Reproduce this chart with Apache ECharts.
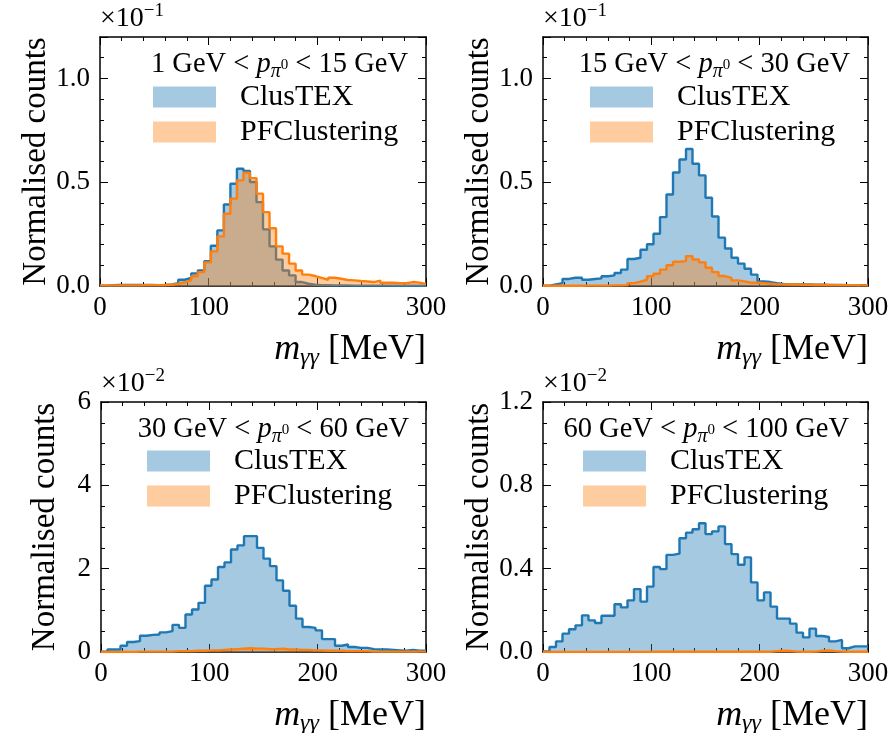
<!DOCTYPE html>
<html><head><meta charset="utf-8">
<script src="https://cdn.jsdelivr.net/npm/echarts@6/dist/echarts.min.js"></script>
<style>html,body{margin:0;padding:0;background:#fff}#chart{width:894px;height:733px}</style>
</head><body><div id="chart"></div>
<script>
// ---------- data ----------
const BIN_WIDTH = 6;          // MeV
const X_MIN = 0, X_MAX = 300, X_MAJOR = 100;
const SERIES_NAMES = ['ClusTEX', 'PFClustering'];
const PT_RANGES = [[1, 15], [15, 30], [30, 60], [60, 100]];
const EXPONENTS = ['\u22121', '\u22121', '\u22122', '\u22122'];
const Y_MAX = [1.2, 1.2, 6, 1.2];
const Y_MAJOR = [0.5, 0.5, 2, 0.4];
const Y_MINOR = [0.1, 0.1, 0.5, 0.1];
const Y_DECIMALS = [1, 1, 0, 1];

const P1_CLUSTEX = [0.002,0.004,0.005,0.005,0.005,0.005,0.005,0.005,0.004,0.005,0.008,0.014,0.030,0.039,0.061,0.075,0.119,0.194,0.268,0.393,0.493,0.565,0.554,0.501,0.404,0.273,0.191,0.127,0.075,0.051,0.019,0.011,0.006,0.004,0.004,0.003,0.003,0.003,0.002,0.002,0.002,0.002,0.002,0.002,0.001,0.001,0.001,0.001,0.001,0.001];
const P1_PFCLUSTERING = [0.003,0.003,0.003,0.003,0.003,0.003,0.004,0.004,0.004,0.005,0.006,0.011,0.018,0.027,0.047,0.067,0.114,0.167,0.239,0.348,0.421,0.509,0.546,0.520,0.445,0.356,0.278,0.191,0.156,0.108,0.075,0.055,0.048,0.039,0.030,0.040,0.035,0.029,0.027,0.024,0.022,0.019,0.026,0.016,0.016,0.014,0.013,0.019,0.016,0.010];
const P2_CLUSTEX = [0.002,0.008,0.014,0.034,0.040,0.040,0.030,0.034,0.037,0.047,0.051,0.063,0.079,0.130,0.136,0.175,0.201,0.252,0.332,0.441,0.547,0.610,0.660,0.589,0.533,0.425,0.335,0.233,0.181,0.136,0.108,0.083,0.055,0.022,0.019,0.013,0.010,0.008,0.008,0.007,0.007,0.006,0.006,0.005,0.005,0.005,0.004,0.004,0.004,0.003];
const P2_PFCLUSTERING = [0.001,0.001,0.001,0.001,0.001,0.001,0.002,0.002,0.002,0.002,0.003,0.003,0.004,0.014,0.021,0.030,0.047,0.059,0.079,0.100,0.117,0.120,0.144,0.128,0.114,0.088,0.067,0.048,0.039,0.027,0.022,0.016,0.016,0.014,0.011,0.008,0.008,0.007,0.007,0.006,0.006,0.005,0.005,0.005,0.004,0.004,0.004,0.004,0.003,0.003];
const P3_CLUSTEX = [0.01,0.06,0.06,0.15,0.24,0.26,0.39,0.41,0.42,0.47,0.50,0.65,0.58,0.90,1.02,1.18,1.59,1.74,2.04,2.15,2.46,2.56,2.78,2.78,2.50,2.24,2.06,1.72,1.47,1.11,0.80,0.60,0.58,0.52,0.31,0.31,0.15,0.18,0.12,0.10,0.10,0.07,0.06,0.06,0.05,0.04,0.03,0.05,0.03,0.03];
const P3_PFCLUSTERING = [0.0,0.0,0.0,0.0,0.0,0.01,0.01,0.01,0.01,0.01,0.01,0.02,0.02,0.02,0.03,0.03,0.04,0.04,0.05,0.06,0.07,0.08,0.09,0.08,0.08,0.07,0.07,0.08,0.06,0.06,0.05,0.05,0.04,0.04,0.03,0.03,0.03,0.02,0.02,0.02,0.02,0.01,0.01,0.01,0.01,0.01,0.01,0.01,0.01,0.01];
const P4_CLUSTEX = [0.003,0.024,0.051,0.088,0.109,0.128,0.176,0.152,0.139,0.174,0.174,0.229,0.214,0.248,0.302,0.242,0.314,0.408,0.398,0.466,0.472,0.546,0.573,0.589,0.618,0.566,0.579,0.603,0.518,0.470,0.419,0.454,0.334,0.248,0.286,0.218,0.160,0.160,0.136,0.093,0.070,0.112,0.077,0.072,0.051,0.058,0.018,0.027,0.027,0.027];
const P4_PFCLUSTERING = [0.0,0.0,0.0,0.0,0.0,0.0,0.0,0.0,0.0,0.0,0.0,0.0,0.0,0.0,0.0,0.0,0.001,0.001,0.001,0.001,0.001,0.001,0.002,0.001,0.001,0.001,0.002,0.001,0.001,0.001,0.001,0.001,0.001,0.001,0.001,0.004,0.006,0.005,0.002,0.001,0.001,0.002,0.006,0.007,0.004,0.002,0.001,0.001,0.001,0.001];

const PANEL_DATA = [
  [P1_CLUSTEX, P1_PFCLUSTERING],
  [P2_CLUSTEX, P2_PFCLUSTERING],
  [P3_CLUSTEX, P3_PFCLUSTERING],
  [P4_CLUSTEX, P4_PFCLUSTERING]
];

// ---------- layout & style ----------
const FONT = 'Liberation Serif';
const W = 894;
const LAYOUT = [
  {left: 100, top: 37, width: 326, height: 249},
  {left: 543, top: 37, width: 325, height: 249},
  {left: 101, top: 402, width: 325, height: 250},
  {left: 543, top: 402, width: 325, height: 250}
];
const LEGEND_POS = [{left: 153, top: 82}, {left: 590, top: 82}, {left: 147, top: 446}, {left: 583, top: 446}];
const TITLE_POS = [{right: W - 408, top: 48}, {right: W - 850, top: 48}, {right: W - 409, top: 413}, {right: W - 849, top: 413}];
const LINE_COLORS = ['#1f77b4', '#ff7f0e'];
const FILL_COLORS = ['rgba(31,119,180,0.4)', 'rgba(255,127,14,0.4)'];

function toSteps(values) {
  const pts = values.map((v, i) => [i * BIN_WIDTH, v]);
  pts.push([values.length * BIN_WIDTH, values[values.length - 1]]);
  return pts;
}

const frameLine = {show: true, onZero: false, lineStyle: {color: '#000', width: 1.5}};
const tickStyle = {color: '#000', width: 1};

const grid = [], xAxis = [], yAxis = [], series = [], legend = [], title = [], graphic = [];

LAYOUT.forEach((L, g) => {
  grid.push(Object.assign({containLabel: false}, L));
  ['bottom', 'top'].forEach(pos => {
    xAxis.push({
      gridIndex: g, type: 'value', position: pos, min: X_MIN, max: X_MAX, interval: X_MAJOR,
      axisLine: frameLine,
      axisTick: {show: true, inside: true, length: 8, lineStyle: tickStyle},
      minorTick: {show: true, splitNumber: 5, length: 4, lineStyle: tickStyle},
      splitLine: {show: false}, minorSplitLine: {show: false},
      axisLabel: {show: pos === 'bottom', margin: 8, fontSize: 27, fontFamily: FONT, color: '#000'}
    });
  });
  const dec = Y_DECIMALS[g];
  const major = Y_MAJOR[g];
  const fmt = v => {
    const k = v / major;
    if (Math.abs(k - Math.round(k)) > 1e-6) return '';
    return v.toFixed(dec);
  };
  ['left', 'right'].forEach(pos => {
    yAxis.push({
      gridIndex: g, type: 'value', position: pos, min: 0, max: Y_MAX[g], interval: major,
      axisLine: frameLine,
      axisTick: {show: true, inside: true, length: 8, lineStyle: tickStyle},
      splitLine: {show: false},
      axisLabel: {show: pos === 'left', margin: 10, fontSize: 27, fontFamily: FONT, color: '#000', formatter: fmt},
      name: pos === 'left' ? 'Normalised counts' : '',
      nameLocation: 'middle', nameGap: 56,
      nameTextStyle: {fontSize: 33, fontFamily: FONT, color: '#000', align: 'center', verticalAlign: 'middle'}
    });
  });
  ['left', 'right'].forEach(pos => {
    yAxis.push({
      gridIndex: g, type: 'value', position: pos, min: 0, max: Y_MAX[g], interval: Y_MINOR[g],
      axisLine: {show: false, onZero: false},
      axisTick: {show: true, inside: true, length: 4, lineStyle: tickStyle},
      splitLine: {show: false},
      axisLabel: {show: false}
    });
  });
  PANEL_DATA[g].forEach((vals, s) => {
    series.push({
      type: 'line', name: SERIES_NAMES[s], xAxisIndex: 2 * g, yAxisIndex: 4 * g,
      data: toSteps(vals), step: 'end', symbol: 'none', silent: true,
      lineStyle: {color: LINE_COLORS[s], width: 2.4},
      itemStyle: {color: LINE_COLORS[s]},
      areaStyle: {color: FILL_COLORS[s], opacity: 1},
      z: 2 + s
    });
  });
  legend.push(Object.assign({
    orient: 'vertical', icon: 'rect', itemWidth: 63, itemHeight: 21, itemGap: 5, padding: 0,
    selectedMode: false,
    textStyle: {fontSize: 30, fontFamily: FONT, color: '#000', lineHeight: 21, padding: [0, 0, 0, 19]},
    data: SERIES_NAMES.map((n, s) => ({name: n, itemStyle: {color: FILL_COLORS[s], borderWidth: 0, borderColor: 'transparent'}}))
  }, LEGEND_POS[g]));
  const r = PT_RANGES[g];
  title.push(Object.assign({
    text: r[0] + ' GeV < {i|p}{sub|\u03c0}{sup|0} < ' + r[1] + ' GeV',
    padding: 0,
    textStyle: {
      fontSize: 28.5, fontFamily: FONT, fontWeight: 'normal', color: '#000', lineHeight: 34,
      rich: {
        i: {fontSize: 28.5, fontFamily: FONT, fontStyle: 'italic', color: '#000', lineHeight: 34},
        sub: {fontSize: 20, fontFamily: FONT, fontStyle: 'italic', color: '#000', verticalAlign: 'bottom', lineHeight: 26},
        sup: {fontSize: 15, fontFamily: FONT, color: '#000', verticalAlign: 'middle', lineHeight: 20}
      }
    }
  }, TITLE_POS[g]));
  // multiplier label above the frame
  graphic.push({
    type: 'text', x: L.left, y: L.top - 1, silent: true,
    style: {
      text: '\u00d710{sup|' + EXPONENTS[g] + '}',
      fontSize: 28, fontFamily: FONT, fill: '#000', lineHeight: 34,
      align: 'left', verticalAlign: 'bottom',
      rich: {sup: {fontSize: 19, fontFamily: FONT, fill: '#000', verticalAlign: 'top', lineHeight: 18}}
    }
  });
  // x-axis title, right aligned to the frame
  graphic.push({
    type: 'text', x: L.left + L.width, y: L.top + L.height + 64, silent: true,
    style: {
      text: '{i|m}{s|\u03b3\u03b3} [MeV]',
      fontSize: 36, fontFamily: FONT, fill: '#000', lineHeight: 40,
      align: 'right', verticalAlign: 'middle',
      rich: {
        i: {fontSize: 36, fontFamily: FONT, fontStyle: 'italic', fill: '#000', lineHeight: 40},
        s: {fontSize: 24, fontFamily: FONT, fontStyle: 'italic', fill: '#000', verticalAlign: 'bottom', lineHeight: 22}
      }
    }
  });
});

const chart = echarts.init(document.getElementById('chart'), null, {renderer: 'canvas'});
chart.setOption({
  animation: false,
  backgroundColor: '#fff',
  grid, xAxis, yAxis, series, legend, title, graphic
});
</script>
</body></html>
